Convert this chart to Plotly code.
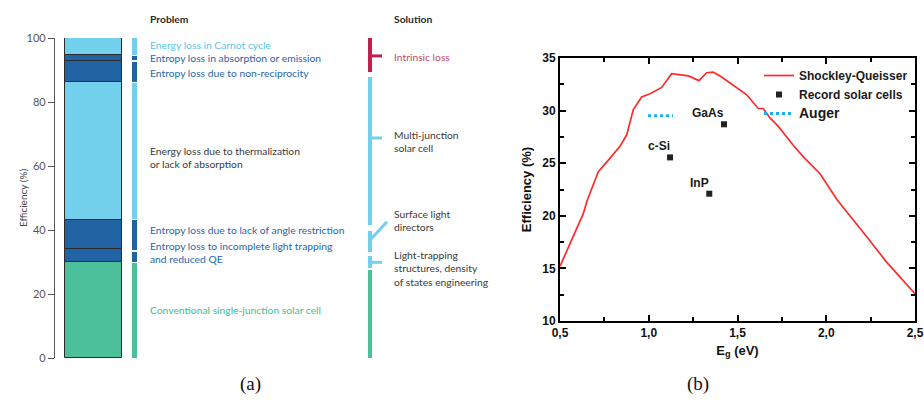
import plotly.graph_objects as go

W, H = 924, 408

def px(x):
    return x / W

def py(y):
    return 1 - y / H

# ---------------- Panel (a) data ----------------
bar_bounds = [0, 30, 34, 43, 86.3, 92.8, 94.7, 100]
bar_colors = ["#4cc09a", "#2163a3", "#2163a3", "#72d0ec", "#2163a3", "#2163a3", "#72d0ec"]

side_lo = [0, 30.0, 33.6, 43.3, 86.2, 93.1, 94.6]
side_hi = [29.8, 33.2, 43.0, 85.8, 92.5, 94.3, 100]
side_colors = ["#4cc09a", "#2163a3", "#2163a3", "#72d0ec", "#2163a3", "#2163a3", "#72d0ec"]

sol_lo = [89.5, 41.6, 33.2, 28.0, 0]
sol_hi = [100, 87.9, 39.8, 31.9, 27.5]
sol_colors = ["#c0204e", "#72d0ec", "#72d0ec", "#72d0ec", "#4cc09a"]
sol_tick_y = [94.4, 68.75, None, 29.9, None]
diag_y = [37.2, 42.6]

problem_texts = [
    "Energy loss in Carnot cycle",
    "Entropy loss in absorption or emission",
    "Entropy loss due to non-reciprocity",
    "Energy loss due to thermalization<br>or lack of absorption",
    "Entropy loss due to lack of angle restriction",
    "Entropy loss to incomplete light trapping<br>and reduced QE",
    "Conventional single-junction solar cell",
]
problem_y = [97.8, 93.8, 89.1, 62.6, 40.0, 32.9, 15.0]
problem_colors = ["#5cc6e6", "#2a64aa", "#2a64aa", "#3a3a3a", "#2a64aa", "#2a64aa", "#43bd93"]

solution_texts = [
    "Intrinsic loss",
    "Multi-junction<br>solar cell",
    "Surface light<br>directors",
    "Light-trapping<br>structures, density<br>of states engineering",
]
solution_y = [94.1, 67.8, 43.0, 28.1]
solution_colors = ["#c8466c", "#3a3a3a", "#3a3a3a", "#3a3a3a"]

# ---------------- Panel (b) data ----------------
sq_eg = [0.5, 0.631, 0.654, 0.716, 0.763, 0.838, 0.876, 0.913, 0.960, 1.007, 1.073,
         1.129, 1.223, 1.283, 1.326, 1.364, 1.411, 1.476, 1.552, 1.617, 1.645,
         1.683, 1.730, 1.814, 1.871, 1.965, 2.062, 2.228, 2.340, 2.5]
sq_eff = [15.2, 20.2, 21.5, 24.2, 25.1, 26.6, 27.7, 30.1, 31.3, 31.6, 32.2,
          33.5, 33.3, 32.85, 33.6, 33.65, 33.2, 32.4, 31.5, 30.2, 30.2,
          29.3, 28.5, 26.7, 25.6, 24.0, 21.5, 18.0, 15.6, 12.6]

cell_names = ["c-Si", "GaAs", "InP"]
cell_eg = [1.12, 1.424, 1.341]
cell_eff = [25.55, 28.7, 22.1]

auger_eg = [0.996, 1.137]
auger_eff = [29.5, 29.5]

fig = go.Figure()

# main stacked bar (a)
for i in range(len(bar_colors)):
    fig.add_trace(go.Bar(
        x=[93.5], y=[bar_bounds[i + 1] - bar_bounds[i]], base=[bar_bounds[i]], width=[57],
        marker=dict(color=bar_colors[i], line=dict(color="#2b2b2b", width=1)),
        xaxis="x", yaxis="y", showlegend=False, hoverinfo="skip"))

# side strip
for lo, hi, c in zip(side_lo, side_hi, side_colors):
    fig.add_trace(go.Bar(
        x=[134.5], y=[hi - lo], base=[lo], width=[5],
        marker=dict(color=c, line=dict(width=0)),
        xaxis="x", yaxis="y", showlegend=False, hoverinfo="skip"))

# solution brackets
for lo, hi, c, ty in zip(sol_lo, sol_hi, sol_colors, sol_tick_y):
    fig.add_trace(go.Bar(
        x=[370], y=[hi - lo], base=[lo], width=[4],
        marker=dict(color=c, line=dict(width=0)),
        xaxis="x", yaxis="y", showlegend=False, hoverinfo="skip"))
    if ty is not None:
        fig.add_trace(go.Scatter(
            x=[371, 382], y=[ty, ty], mode="lines",
            line=dict(color=c, width=3), xaxis="x", yaxis="y",
            showlegend=False, hoverinfo="skip"))
# diagonal for surface light directors
fig.add_trace(go.Scatter(
    x=[371, 387], y=diag_y, mode="lines",
    line=dict(color=sol_colors[2], width=3), xaxis="x", yaxis="y",
    showlegend=False, hoverinfo="skip"))

# ---------------- Panel (b) traces ----------------
fig.add_trace(go.Scatter(
    x=sq_eg, y=sq_eff, mode="lines", name="Shockley-Queisser",
    line=dict(color="#ff2b2b", width=1.7), xaxis="x2", yaxis="y2"))
fig.add_trace(go.Scatter(
    x=cell_eg, y=cell_eff, mode="markers", name="Record solar cells",
    marker=dict(symbol="square", size=6, color="#222222"), xaxis="x2", yaxis="y2"))
fig.add_trace(go.Scatter(
    x=auger_eg, y=auger_eff, mode="lines",
    name="<span style='font-size:14px'>Auger</span>",
    line=dict(color="#17b2ee", width=3, dash="dot"), xaxis="x2", yaxis="y2"))

FS = 10.3
annotations = []
annotations.append(dict(x=px(148), y=py(19), xref="paper", yref="paper", text="<b>Problem</b>",
                        showarrow=False, xanchor="left", yanchor="middle",
                        font=dict(family="Lato", size=FS, color="#2a2a2a")))
annotations.append(dict(x=px(392), y=py(19), xref="paper", yref="paper", text="<b>Solution</b>",
                        showarrow=False, xanchor="left", yanchor="middle",
                        font=dict(family="Lato", size=FS, color="#2a2a2a")))
for t, yv, c in zip(problem_texts, problem_y, problem_colors):
    annotations.append(dict(x=148, y=yv, xref="x", yref="y", text=t, showarrow=False,
                            xanchor="left", yanchor="middle", align="left",
                            font=dict(family="Lato", size=FS, color=c)))
for t, yv, c in zip(solution_texts, solution_y, solution_colors):
    annotations.append(dict(x=392, y=yv, xref="x", yref="y", text=t, showarrow=False,
                            xanchor="left", yanchor="middle", align="left",
                            font=dict(family="Lato", size=FS, color=c)))
annotations.append(dict(x=px(15), y=py(198), xref="paper", yref="paper", text="Efficiency (%)",
                        showarrow=False, textangle=-90,
                        font=dict(family="Lato", size=10, color="#444444")))
for n, e, f in zip(cell_names, cell_eg, cell_eff):
    annotations.append(dict(x=e, y=f, xref="x2", yref="y2", text="<b>%s</b>" % n,
                            showarrow=False, xanchor="right", yanchor="bottom",
                            xshift=2, yshift=2,
                            font=dict(family="Liberation Sans", size=12, color="#1a1a1a")))
annotations.append(dict(x=px(238), y=py(397), xref="paper", yref="paper", text="(a)",
                        showarrow=False, font=dict(family="Liberation Serif", size=19, color="#111")))
annotations.append(dict(x=px(711), y=py(397), xref="paper", yref="paper", text="(b)",
                        showarrow=False, font=dict(family="Liberation Serif", size=19, color="#111")))

fig.update_layout(
    width=W, height=H, margin=dict(l=0, r=0, t=0, b=0, autoexpand=False),
    paper_bgcolor="white", plot_bgcolor="rgba(0,0,0,0)",
    barmode="overlay", bargap=0, separators=",.",
    annotations=annotations,
    showlegend=True,
    legend=dict(x=px(913), y=py(61), xanchor="right", yanchor="top",
                bgcolor="rgba(0,0,0,0)", tracegroupgap=0, itemwidth=30,
                font=dict(family="Liberation Sans", size=12, color="#1a1a1a", weight="bold")),
    xaxis=dict(domain=[px(54), px(462)], range=[54, 462], visible=False, fixedrange=True,
               automargin=False),
    yaxis=dict(domain=[py(358), py(38)], range=[0, 100], anchor="free", position=px(54),
               automargin=False,
               showline=True, linecolor="#555555", linewidth=1.3,
               ticks="outside", ticklen=6, tickcolor="#555555", tickwidth=1.3,
               tickvals=[0, 20, 40, 60, 80, 100], showgrid=False, zeroline=False,
               tickfont=dict(family="Lato", size=11, color="#555555")),
    xaxis2=dict(domain=[px(560), px(915)], range=[0.5, 2.5], anchor="y2", automargin=False,
                showline=True, linecolor="black", linewidth=2, mirror="allticks",
                ticks="inside", ticklen=6, tickwidth=1.5, tickcolor="black",
                tickvals=[0.5, 1.0, 1.5, 2.0, 2.5], tickformat=".1f",
                minor=dict(ticks="inside", ticklen=4, tickwidth=1.5, tickcolor="black",
                           dtick=0.25, tick0=0.5, showgrid=False),
                showgrid=False, zeroline=False,
                tickfont=dict(family="Liberation Sans", size=12, color="#111", weight="bold"),
                title=dict(text="<b>E<sub>g</sub> (eV)</b>", standoff=6,
                           font=dict(family="Liberation Sans", size=13, color="#111"))),
    yaxis2=dict(domain=[py(321), py(58)], range=[10, 35], anchor="x2", automargin=False,
                showline=True, linecolor="black", linewidth=2, mirror="allticks",
                ticks="inside", ticklen=6, tickwidth=1.5, tickcolor="black",
                dtick=5, tick0=10,
                minor=dict(ticks="inside", ticklen=4, tickwidth=1.5, tickcolor="black",
                           dtick=2.5, showgrid=False),
                showgrid=False, zeroline=False,
                tickfont=dict(family="Liberation Sans", size=12, color="#111", weight="bold"),
                title=dict(text="<b>Efficiency (%)</b>", standoff=8,
                           font=dict(family="Liberation Sans", size=13, color="#111"))),
)

fig.write_html("out.html")
